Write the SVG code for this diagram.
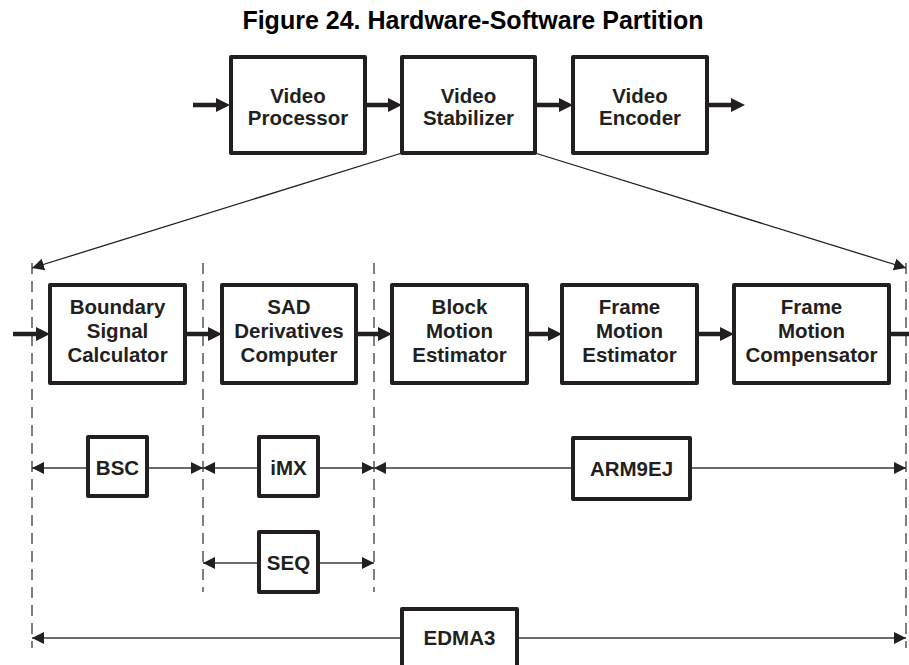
<svg xmlns="http://www.w3.org/2000/svg" width="909" height="665" viewBox="0 0 909 665">
  <style>
    .box { fill: #ffffff; stroke: #231f20; stroke-width: 4; stroke-linejoin: round; }
    .lbl { font-family: "Liberation Sans", Arial, Helvetica, sans-serif; font-weight: bold; font-size: 20.5px; fill: #231f20; text-anchor: middle; }
    .title { font-family: "Liberation Sans", Arial, Helvetica, sans-serif; font-weight: bold; font-size: 25px; fill: #000000; text-anchor: middle; }
    .flow { stroke: #231f20; stroke-width: 4.5; fill: none; marker-end: url(#thick); }
    .flow-open { stroke: #231f20; stroke-width: 4.5; fill: none; }
    .dim { stroke: #3a3a3a; stroke-width: 1.5; fill: none; marker-end: url(#thin); }
    .split { stroke: #231f20; stroke-width: 1.3; fill: none; marker-end: url(#thin); }
    .guide { stroke: #555555; stroke-width: 1.5; stroke-dasharray: 11 7; fill: none; }
  </style>
  <defs>
    <marker id="thick" markerUnits="userSpaceOnUse" markerWidth="15" markerHeight="15" refX="1" refY="7" orient="auto">
      <path d="M0,0 L14,7 L0,14 z" fill="#231f20"/>
    </marker>
    <marker id="thin" markerUnits="userSpaceOnUse" markerWidth="13" markerHeight="13" refX="12" refY="6" orient="auto">
      <path d="M0,0 L12,6 L0,12 z" fill="#231f20"/>
    </marker>
  </defs>

  <text class="title" x="473" y="29">Figure 24. Hardware-Software Partition</text>

  <!-- dashed partition guides -->
  <g id="guides">
    <line class="guide" x1="32" y1="263" x2="32" y2="648"/>
    <line class="guide" x1="203" y1="263" x2="203" y2="592"/>
    <line class="guide" x1="374" y1="263" x2="374" y2="592"/>
    <line class="guide" x1="906" y1="263" x2="906" y2="648"/>
  </g>

  <!-- connectors -->
  <g id="connectors">
    <!-- top pipeline -->
    <line class="flow" x1="193" y1="105" x2="217" y2="105"/>
    <line class="flow" x1="365" y1="105" x2="389" y2="105"/>
    <line class="flow" x1="535" y1="105" x2="560" y2="105"/>
    <line class="flow" x1="707" y1="105" x2="732" y2="105"/>
    <!-- expansion of the stabilizer -->
    <line class="split" x1="402" y1="153" x2="32" y2="268"/>
    <line class="split" x1="535" y1="153" x2="906" y2="268"/>
    <!-- stabilizer pipeline -->
    <line class="flow" x1="13" y1="334" x2="37" y2="334"/>
    <line class="flow" x1="185" y1="334" x2="209" y2="334"/>
    <line class="flow" x1="356" y1="334" x2="379" y2="334"/>
    <line class="flow" x1="527" y1="334" x2="549" y2="334"/>
    <line class="flow" x1="697" y1="334" x2="721" y2="334"/>
    <line class="flow-open" x1="889" y1="334" x2="909" y2="334"/>
    <!-- processor spans -->
    <line class="dim" x1="88" y1="468" x2="32" y2="468"/>
    <line class="dim" x1="147" y1="468" x2="203" y2="468"/>
    <line class="dim" x1="259" y1="468" x2="203" y2="468"/>
    <line class="dim" x1="318" y1="468" x2="374" y2="468"/>
    <line class="dim" x1="573" y1="468" x2="374" y2="468"/>
    <line class="dim" x1="690" y1="468" x2="906" y2="468"/>
    <line class="dim" x1="259" y1="563" x2="203" y2="563"/>
    <line class="dim" x1="318" y1="563" x2="374" y2="563"/>
    <line class="dim" x1="402" y1="638" x2="32" y2="638"/>
    <line class="dim" x1="517" y1="638" x2="906" y2="638"/>
  </g>

  <!-- top pipeline blocks -->
  <g id="video-processor">
    <rect class="box" x="231" y="57" width="134" height="96"/>
    <text class="lbl" x="298" y="103">Video</text>
    <text class="lbl" x="298" y="125">Processor</text>
  </g>
  <g id="video-stabilizer">
    <rect class="box" x="402" y="57" width="133" height="96"/>
    <text class="lbl" x="468.5" y="103">Video</text>
    <text class="lbl" x="468.5" y="125">Stabilizer</text>
  </g>
  <g id="video-encoder">
    <rect class="box" x="573" y="57" width="134" height="96"/>
    <text class="lbl" x="640" y="103">Video</text>
    <text class="lbl" x="640" y="125">Encoder</text>
  </g>

  <!-- stabilizer stages -->
  <g id="boundary-signal-calculator">
    <rect class="box" x="50" y="285" width="135" height="98"/>
    <text class="lbl" x="117.5" y="314">Boundary</text>
    <text class="lbl" x="117.5" y="338">Signal</text>
    <text class="lbl" x="117.5" y="362">Calculator</text>
  </g>
  <g id="sad-derivatives-computer">
    <rect class="box" x="222" y="285" width="134" height="98"/>
    <text class="lbl" x="289" y="314">SAD</text>
    <text class="lbl" x="289" y="338">Derivatives</text>
    <text class="lbl" x="289" y="362">Computer</text>
  </g>
  <g id="block-motion-estimator">
    <rect class="box" x="392" y="285" width="135" height="98"/>
    <text class="lbl" x="459.5" y="314">Block</text>
    <text class="lbl" x="459.5" y="338">Motion</text>
    <text class="lbl" x="459.5" y="362">Estimator</text>
  </g>
  <g id="frame-motion-estimator">
    <rect class="box" x="562" y="285" width="135" height="98"/>
    <text class="lbl" x="629.5" y="314">Frame</text>
    <text class="lbl" x="629.5" y="338">Motion</text>
    <text class="lbl" x="629.5" y="362">Estimator</text>
  </g>
  <g id="frame-motion-compensator">
    <rect class="box" x="734" y="285" width="155" height="98"/>
    <text class="lbl" x="811.5" y="314">Frame</text>
    <text class="lbl" x="811.5" y="338">Motion</text>
    <text class="lbl" x="811.5" y="362">Compensator</text>
  </g>

  <!-- processing units -->
  <g id="bsc">
    <rect class="box" x="88" y="437" width="59" height="59"/>
    <text class="lbl" x="117.5" y="474.5">BSC</text>
  </g>
  <g id="imx">
    <rect class="box" x="259" y="437" width="59" height="59"/>
    <text class="lbl" x="288.5" y="474.5">iMX</text>
  </g>
  <g id="arm9ej">
    <rect class="box" x="573" y="438" width="117" height="61"/>
    <text class="lbl" x="631.5" y="476">ARM9EJ</text>
  </g>
  <g id="seq">
    <rect class="box" x="259" y="532" width="59" height="60"/>
    <text class="lbl" x="288.5" y="570">SEQ</text>
  </g>
  <g id="edma3">
    <rect class="box" x="402" y="609" width="115" height="70"/>
    <text class="lbl" x="459.5" y="645">EDMA3</text>
  </g>
</svg>
